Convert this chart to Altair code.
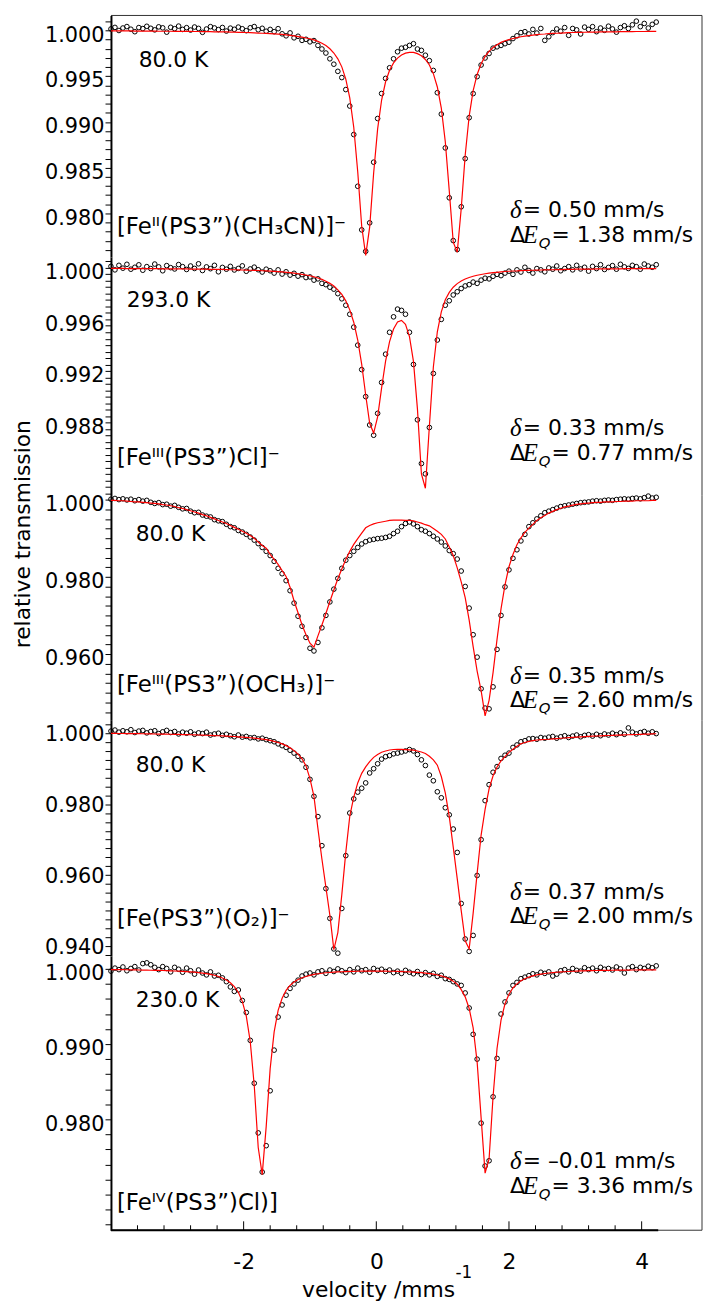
import altair as alt
import pandas as pd

# ---------------- data ----------------
VELOCITY = [
    -4.00, -3.94, -3.88, -3.82, -3.76, -3.70, -3.64, -3.58, -3.52, -3.46,
    -3.40, -3.34, -3.28, -3.22, -3.16, -3.10, -3.04, -2.98, -2.92, -2.86,
    -2.80, -2.74, -2.68, -2.62, -2.56, -2.50, -2.44, -2.38, -2.32, -2.26,
    -2.20, -2.14, -2.08, -2.02, -1.96, -1.90, -1.84, -1.78, -1.72, -1.66,
    -1.60, -1.54, -1.48, -1.42, -1.36, -1.30, -1.24, -1.18, -1.12, -1.06,
    -1.00, -0.94, -0.88, -0.82, -0.76, -0.70, -0.64, -0.58, -0.52, -0.46,
    -0.40, -0.34, -0.28, -0.22, -0.16, -0.10, -0.04, 0.02, 0.08, 0.14,
    0.20, 0.26, 0.32, 0.38, 0.44, 0.50, 0.56, 0.62, 0.68, 0.74,
    0.80, 0.86, 0.92, 0.98, 1.04, 1.10, 1.16, 1.22, 1.28, 1.34,
    1.40, 1.46, 1.52, 1.58, 1.64, 1.70, 1.76, 1.82, 1.88, 1.94,
    2.00, 2.06, 2.12, 2.18, 2.24, 2.30, 2.36, 2.42, 2.48, 2.54,
    2.60, 2.66, 2.72, 2.78, 2.84, 2.90, 2.96, 3.02, 3.08, 3.14,
    3.20, 3.26, 3.32, 3.38, 3.44, 3.50, 3.56, 3.62, 3.68, 3.74,
    3.80, 3.86, 3.92, 3.98, 4.04, 4.10, 4.16, 4.22]

P1_FIT = [
    0.99994, 0.99994, 0.99993, 0.99993, 0.99993, 0.99993, 0.99992, 0.99992, 0.99991, 0.99991,
    0.99991, 0.99991, 0.99990, 0.99990, 0.99990, 0.99990, 0.99989, 0.99989, 0.99988, 0.99988,
    0.99988, 0.99987, 0.99987, 0.99986, 0.99986, 0.99985, 0.99984, 0.99983, 0.99983, 0.99982,
    0.99981, 0.99980, 0.99978, 0.99977, 0.99976, 0.99974, 0.99972, 0.99970, 0.99968, 0.99966,
    0.99964, 0.99961, 0.99958, 0.99955, 0.99950, 0.99945, 0.99939, 0.99932, 0.99925, 0.99916,
    0.99908, 0.99895, 0.99879, 0.99859, 0.99833, 0.99799, 0.99752, 0.99689, 0.99601, 0.99468,
    0.99263, 0.98942, 0.98456, 0.97860, 0.97543, 0.97851, 0.98442, 0.98924, 0.99239, 0.99438,
    0.99563, 0.99644, 0.99697, 0.99731, 0.99751, 0.99760, 0.99759, 0.99745, 0.99722, 0.99682,
    0.99622, 0.99527, 0.99381, 0.99150, 0.98783, 0.98247, 0.97686, 0.97577, 0.98051, 0.98636,
    0.99064, 0.99341, 0.99518, 0.99635, 0.99715, 0.99771, 0.99812, 0.99843, 0.99868, 0.99886,
    0.99899, 0.99911, 0.99921, 0.99930, 0.99937, 0.99943, 0.99948, 0.99953, 0.99957, 0.99960,
    0.99964, 0.99966, 0.99968, 0.99970, 0.99972, 0.99974, 0.99976, 0.99977, 0.99978, 0.99979,
    0.99980, 0.99981, 0.99981, 0.99982, 0.99983, 0.99983, 0.99984, 0.99984, 0.99985, 0.99985,
    0.99986, 0.99986, 0.99987, 0.99987, 0.99987, 0.99988, 0.99988, 0.99988]
P1_DATA = [
    1.00015, 1.00032, 0.99998, 1.00025, 1.00041, 1.00012, 0.99985, 1.00030, 1.00019, 1.00044,
    1.00022, 1.00005, 1.00038, 1.00027, 0.99980, 1.00033, 1.00018, 1.00046, 1.00010, 1.00029,
    1.00003, 1.00036, 1.00021, 0.99978, 1.00014, 1.00040, 1.00026, 1.00008, 1.00031, 0.99992,
    1.00024, 1.00011, 1.00035, 1.00017, 0.99996, 1.00028, 1.00041, 1.00006, 1.00022, 0.99990,
    1.00010, 0.99985, 1.00018, 0.99962, 0.99940, 0.99972, 0.99918, 0.99935, 0.99890, 0.99902,
    0.99874, 0.99888, 0.99835, 0.99796, 0.99752, 0.99689, 0.99630, 0.99552, 0.99484, 0.99353,
    0.99173, 0.98862, 0.98297, 0.97821, 0.97587, 0.97898, 0.98560, 0.99037, 0.99310, 0.99475,
    0.99591, 0.99689, 0.99766, 0.99805, 0.99815, 0.99835, 0.99854, 0.99796, 0.99781, 0.99728,
    0.99669, 0.99562, 0.99319, 0.99085, 0.98716, 0.98171, 0.97704, 0.97606, 0.98073, 0.98599,
    0.99046, 0.99309, 0.99494, 0.99621, 0.99698, 0.99747, 0.99805, 0.99820, 0.99835, 0.99854,
    0.99870, 0.99910, 0.99940, 0.99975, 0.99985, 0.99960, 1.00010, 0.99970, 1.00020, 0.99890,
    0.99930, 0.99975, 1.00015, 0.99990, 1.00030, 0.99945, 1.00020, 1.00005, 0.99960, 1.00035,
    1.00010, 1.00040, 0.99985, 1.00025, 1.00000, 1.00045, 1.00015, 0.99980, 1.00030, 1.00050,
    1.00020, 1.00060, 1.00100, 1.00040, 1.00075, 1.00025, 1.00065, 1.00090]

P2_FIT = [
    0.99996, 0.99996, 0.99996, 0.99996, 0.99995, 0.99995, 0.99995, 0.99995, 0.99995, 0.99994,
    0.99994, 0.99994, 0.99994, 0.99993, 0.99993, 0.99993, 0.99993, 0.99992, 0.99992, 0.99992,
    0.99991, 0.99991, 0.99991, 0.99990, 0.99990, 0.99989, 0.99989, 0.99988, 0.99988, 0.99987,
    0.99986, 0.99986, 0.99985, 0.99984, 0.99983, 0.99982, 0.99981, 0.99980, 0.99978, 0.99977,
    0.99975, 0.99973, 0.99971, 0.99969, 0.99966, 0.99963, 0.99959, 0.99955, 0.99950, 0.99945,
    0.99939, 0.99931, 0.99922, 0.99911, 0.99897, 0.99880, 0.99859, 0.99830, 0.99794, 0.99744,
    0.99674, 0.99578, 0.99440, 0.99250, 0.99013, 0.98793, 0.98717, 0.98843, 0.99068, 0.99276,
    0.99428, 0.99525, 0.99580, 0.99592, 0.99561, 0.99466, 0.99274, 0.98905, 0.98399, 0.98288,
    0.98770, 0.99230, 0.99504, 0.99659, 0.99752, 0.99810, 0.99850, 0.99878, 0.99898, 0.99914,
    0.99926, 0.99935, 0.99943, 0.99949, 0.99955, 0.99959, 0.99963, 0.99966, 0.99969, 0.99972,
    0.99974, 0.99976, 0.99977, 0.99979, 0.99980, 0.99981, 0.99982, 0.99983, 0.99984, 0.99985,
    0.99986, 0.99986, 0.99987, 0.99987, 0.99988, 0.99989, 0.99989, 0.99990, 0.99990, 0.99990,
    0.99991, 0.99991, 0.99992, 0.99992, 0.99992, 0.99993, 0.99993, 0.99993, 0.99993, 0.99994,
    0.99994, 0.99994, 0.99994, 0.99995, 0.99995, 0.99995, 0.99995, 0.99995]
P2_DATA = [
    1.00012, 0.99985, 1.00020, 0.99998, 1.00028, 0.99990, 1.00005, 1.00024, 0.99982, 1.00010,
    0.99995, 1.00030, 1.00008, 0.99978, 1.00018, 1.00002, 0.99992, 1.00026, 1.00010, 0.99988,
    1.00015, 0.99996, 1.00032, 0.99980, 1.00008, 0.99994, 1.00020, 0.99970, 1.00004, 0.99990,
    1.00012, 0.99984, 0.99996, 1.00016, 0.99974, 0.99992, 1.00006, 0.99986, 0.99968, 0.99990,
    0.99978, 0.99960, 0.99985, 0.99952, 0.99970, 0.99944, 0.99958, 0.99936, 0.99948, 0.99925,
    0.99930, 0.99905, 0.99915, 0.99880, 0.99870, 0.99850, 0.99835, 0.99800, 0.99760, 0.99710,
    0.99640, 0.99540, 0.99400, 0.99210, 0.99000, 0.98780, 0.98700, 0.98870, 0.99110, 0.99330,
    0.99500, 0.99620, 0.99680, 0.99670, 0.99640, 0.99500, 0.99250, 0.98820, 0.98480, 0.98400,
    0.98760, 0.99180, 0.99440, 0.99600, 0.99710, 0.99745, 0.99790, 0.99815, 0.99840, 0.99860,
    0.99870, 0.99890, 0.99880, 0.99905, 0.99920, 0.99915, 0.99935, 0.99950, 0.99940, 0.99960,
    0.99975, 0.99950, 0.99985, 0.99968, 1.00005, 0.99980, 0.99960, 0.99995, 0.99985, 0.99970,
    1.00000, 0.99990, 1.00015, 0.99978, 0.99995, 1.00010, 0.99985, 1.00020, 0.99992, 1.00005,
    0.99975, 1.00012, 0.99995, 1.00025, 0.99988, 1.00004, 1.00018, 0.99990, 1.00028, 1.00008,
    0.99996, 1.00020, 1.00010, 0.99990, 1.00030, 1.00015, 1.00005, 1.00025]

P3_FIT = [
    0.9998, 0.9998, 0.9997, 0.9997, 0.9996, 0.9995, 0.9994, 0.9994, 0.9993, 0.9992,
    0.9991, 0.9990, 0.9989, 0.9987, 0.9986, 0.9984, 0.9982, 0.9979, 0.9977, 0.9974,
    0.9971, 0.9968, 0.9965, 0.9961, 0.9958, 0.9954, 0.9950, 0.9946, 0.9942, 0.9938,
    0.9933, 0.9928, 0.9923, 0.9918, 0.9913, 0.9907, 0.9900, 0.9890, 0.9881, 0.9874,
    0.9858, 0.9845, 0.9832, 0.9816, 0.9801, 0.9773, 0.9738, 0.9707, 0.9676, 0.9650,
    0.9628, 0.9618, 0.9647, 0.9675, 0.9705, 0.9736, 0.9766, 0.9795, 0.9820, 0.9845,
    0.9866, 0.9884, 0.9899, 0.9913, 0.9927, 0.9933, 0.9937, 0.9940, 0.9942, 0.9944,
    0.9946, 0.9947, 0.9947, 0.9947, 0.9946, 0.9946, 0.9945, 0.9942, 0.9939, 0.9935,
    0.9932, 0.9925, 0.9918, 0.9910, 0.9898, 0.9877, 0.9855, 0.9823, 0.9787, 0.9746,
    0.9688, 0.9619, 0.9556, 0.9505, 0.9440, 0.9480, 0.9552, 0.9638, 0.9717, 0.9779,
    0.9826, 0.9858, 0.9883, 0.9901, 0.9915, 0.9926, 0.9936, 0.9946, 0.9953, 0.9959,
    0.9965, 0.99695, 0.9974, 0.99775, 0.9981, 0.9983, 0.99855, 0.99875, 0.9989, 0.9990,
    0.9991, 0.9992, 0.9993, 0.9993, 0.9994, 0.9994, 0.9994, 0.9995, 0.9995, 0.9996,
    0.9996, 0.9996, 0.9997, 0.9997, 0.9997, 0.9997, 0.9998, 0.9998]
P3_DATA = [
    1.0001, 1.0003, 1.0000, 1.0002, 0.9999, 1.0001, 0.9997, 1.0000, 0.9996, 0.9998,
    0.9993, 0.9990, 0.9992, 0.9987, 0.9988, 0.9983, 0.9985, 0.9980, 0.9976, 0.9977,
    0.9970, 0.9966, 0.9967, 0.9960, 0.9957, 0.9955, 0.9948, 0.9945, 0.9943, 0.9936,
    0.9930, 0.9927, 0.9920, 0.9916, 0.9910, 0.9903, 0.9895, 0.9886, 0.9876, 0.9866,
    0.9855, 0.9840, 0.9822, 0.9808, 0.9790, 0.9764, 0.9732, 0.9698, 0.9672, 0.9643,
    0.9615, 0.9608, 0.9630, 0.9668, 0.9700, 0.9735, 0.9768, 0.9796, 0.9822, 0.9843,
    0.9855, 0.9866, 0.9876, 0.9885, 0.9891, 0.9895, 0.9897, 0.9899, 0.9900, 0.9902,
    0.9905, 0.9912, 0.9918, 0.9930, 0.9938, 0.9942, 0.9937, 0.9930, 0.9922, 0.9918,
    0.9912, 0.9905, 0.9898, 0.9890, 0.9880, 0.9868, 0.9860, 0.9846, 0.9815, 0.9775,
    0.9719, 0.9650, 0.9592, 0.9510, 0.9460, 0.9458, 0.9515, 0.9612, 0.9700, 0.9774,
    0.9818, 0.9848, 0.9870, 0.9893, 0.9910, 0.9930, 0.9940, 0.9950, 0.9958, 0.9966,
    0.9970, 0.9974, 0.9978, 0.9982, 0.9984, 0.9986, 0.9988, 0.9990, 0.9992, 0.9993,
    0.9994, 0.9996, 0.9997, 0.9996, 0.9998, 0.9999, 0.9998, 1.0000, 1.0001, 1.0002,
    1.0001, 1.0003, 1.0004, 1.0002, 1.0005, 1.0009, 1.0004, 1.0006]

P4_FIT = [
    0.99995, 0.99994, 0.99993, 0.99992, 0.99991, 0.99990, 0.99988, 0.99987, 0.99985, 0.99983,
    0.99981, 0.99979, 0.99977, 0.99975, 0.99973, 0.99971, 0.99968, 0.99966, 0.99963, 0.99960,
    0.99957, 0.99954, 0.99951, 0.99947, 0.99943, 0.99939, 0.99935, 0.99930, 0.99925, 0.99920,
    0.99914, 0.99908, 0.99900, 0.99892, 0.99883, 0.99873, 0.99862, 0.99850, 0.99835, 0.99818,
    0.99797, 0.99772, 0.99740, 0.99700, 0.99650, 0.99590, 0.99510, 0.99410, 0.99280, 0.99080,
    0.98720, 0.98220, 0.97310, 0.96455, 0.95660, 0.94870, 0.93900, 0.94380, 0.95450, 0.96640,
    0.97660, 0.98200, 0.98600, 0.98870, 0.99050, 0.99200, 0.99320, 0.99400, 0.99465, 0.99500,
    0.99528, 0.99542, 0.99546, 0.99545, 0.99540, 0.99530, 0.99522, 0.99500, 0.99470, 0.99430,
    0.99350, 0.99250, 0.99100, 0.98780, 0.98320, 0.97650, 0.96790, 0.95900, 0.95000, 0.94150,
    0.93920, 0.94930, 0.96050, 0.97130, 0.97851, 0.98430, 0.98800, 0.99050, 0.99220, 0.99340,
    0.99460, 0.99550, 0.99630, 0.99705, 0.99740, 0.99770, 0.99790, 0.99810, 0.99818, 0.99824,
    0.99830, 0.99840, 0.99850, 0.99858, 0.99866, 0.99874, 0.99882, 0.99890, 0.99897, 0.99904,
    0.99910, 0.99916, 0.99922, 0.99927, 0.99932, 0.99937, 0.99941, 0.99945, 0.99949, 0.99953,
    0.99957, 0.99961, 0.99965, 0.99969, 0.99973, 0.99977, 0.99981, 0.99985]
P4_DATA = [
    1.0006, 1.0009, 1.0003, 1.0007, 1.0004, 1.0010, 1.0002, 1.0006, 1.0008, 1.0001,
    1.0005, 1.0007, 0.9999, 1.0004, 1.0008, 1.0002, 1.0005, 0.9998, 1.0003, 1.0000,
    1.0004, 0.9997, 1.0001, 0.9999, 1.0003, 0.9995, 0.9998, 1.0000, 0.9994, 0.9997,
    0.9993, 0.9990, 0.9995, 0.9989, 0.9991, 0.9987, 0.9988, 0.9984, 0.9986, 0.9982,
    0.9979, 0.9976, 0.9970, 0.9965, 0.9960, 0.9952, 0.9944, 0.9935, 0.9925, 0.9904,
    0.9870, 0.9822, 0.9765, 0.9683, 0.9562, 0.9478, 0.9392, 0.9380, 0.9506, 0.9655,
    0.9775, 0.9815, 0.9834, 0.9845, 0.9860, 0.9888, 0.9900, 0.9914, 0.9927, 0.9934,
    0.9937, 0.9942, 0.9944, 0.9947, 0.9950, 0.9954, 0.9950, 0.9940, 0.9925, 0.9909,
    0.9882, 0.9866, 0.9835, 0.9818, 0.9790, 0.9770, 0.9730, 0.9664, 0.9520, 0.9420,
    0.9385, 0.9430, 0.9599, 0.9700, 0.9810, 0.9855, 0.9890, 0.9906, 0.9929, 0.9938,
    0.9944, 0.9960, 0.9967, 0.9976, 0.9979, 0.9984, 0.9985, 0.9983, 0.9988, 0.9986,
    0.9989, 0.9991, 0.9986, 0.9990, 0.9993, 0.9988, 0.9992, 0.9995, 0.9990, 0.9994,
    0.9996, 0.9992, 0.9997, 0.9993, 0.9998, 0.9995, 1.0000, 0.9996, 1.0001, 0.9997,
    1.0015, 1.0003, 0.9998, 1.0002, 1.0005, 1.0000, 1.0004, 0.9999]

P5_FIT = [
    0.99990, 0.99990, 0.99989, 0.99989, 0.99988, 0.99987, 0.99986, 0.99985, 0.99984, 0.99983,
    0.99982, 0.99981, 0.99979, 0.99978, 0.99976, 0.99974, 0.99972, 0.99970, 0.99967, 0.99964,
    0.99960, 0.99956, 0.99950, 0.99944, 0.99936, 0.99927, 0.99915, 0.99899, 0.99879, 0.99852,
    0.99816, 0.99764, 0.99689, 0.99568, 0.99371, 0.99032, 0.98449, 0.97626, 0.97265, 0.97903,
    0.98674, 0.99163, 0.99448, 0.99610, 0.99714, 0.99781, 0.99826, 0.99859, 0.99882, 0.99899,
    0.99913, 0.99927, 0.99935, 0.99942, 0.99948, 0.99952, 0.99956, 0.99959, 0.99962, 0.99964,
    0.99966, 0.99967, 0.99968, 0.99969, 0.99970, 0.99970, 0.99970, 0.99970, 0.99970, 0.99969,
    0.99968, 0.99968, 0.99966, 0.99964, 0.99962, 0.99960, 0.99957, 0.99953, 0.99949, 0.99944,
    0.99937, 0.99929, 0.99919, 0.99906, 0.99889, 0.99867, 0.99837, 0.99796, 0.99724, 0.99628,
    0.99474, 0.99215, 0.98763, 0.98023, 0.97285, 0.97474, 0.98301, 0.98942, 0.99318, 0.99536,
    0.99663, 0.99746, 0.99801, 0.99841, 0.99869, 0.99891, 0.99907, 0.99920, 0.99930, 0.99938,
    0.99945, 0.99950, 0.99955, 0.99959, 0.99962, 0.99965, 0.99968, 0.99971, 0.99973, 0.99974,
    0.99976, 0.99977, 0.99978, 0.99979, 0.99980, 0.99981, 0.99982, 0.99983, 0.99983, 0.99984,
    0.99984, 0.99985, 0.99985, 0.99986, 0.99986, 0.99986, 0.99987, 0.99987]
P5_DATA = [
    0.99970, 1.00010, 0.99990, 1.00025, 0.99975, 1.00005, 1.00030, 0.99985, 1.00070, 1.00080,
    1.00055, 1.00020, 0.99990, 1.00030, 1.00005, 0.99960, 1.00020, 0.99995, 0.99955, 1.00010,
    0.99975, 0.99930, 0.99985, 0.99945, 0.99920, 0.99960, 0.99905, 0.99915, 0.99880, 0.99830,
    0.99760, 0.99700, 0.99720, 0.99580, 0.99420, 0.99050, 0.98480, 0.97820, 0.97300, 0.97650,
    0.98380, 0.98920, 0.99360, 0.99520, 0.99650, 0.99740, 0.99800, 0.99850, 0.99905, 0.99930,
    0.99945, 0.99920, 0.99960, 0.99975, 0.99940, 0.99985, 0.99965, 1.00000, 0.99975, 0.99950,
    0.99990, 0.99960, 1.00010, 0.99975, 0.99990, 0.99955, 1.00005, 0.99980, 0.99995, 0.99965,
    0.99985, 0.99950, 0.99970, 0.99940, 0.99980, 0.99955, 0.99935, 0.99965, 0.99925, 0.99950,
    0.99920, 0.99940, 0.99900, 0.99915, 0.99870, 0.99860, 0.99830, 0.99800, 0.99780, 0.99680,
    0.99480, 0.99130, 0.98800, 0.97950, 0.97380, 0.97450, 0.98300, 0.98810, 0.99400, 0.99560,
    0.99680, 0.99780, 0.99820, 0.99870, 0.99890, 0.99910, 0.99935, 0.99920, 0.99955, 0.99940,
    0.99960, 0.99905, 0.99930, 0.99975, 0.99990, 0.99960, 1.00005, 0.99980, 0.99970, 1.00015,
    0.99990, 1.00010, 0.99975, 1.00020, 0.99995, 1.00005, 0.99985, 1.00025, 1.00000, 0.99945,
    1.00010, 1.00030, 0.99990, 1.00020, 1.00005, 1.00035, 1.00015, 1.00040]

# axis ticks
Y_TICKS_1 = [0.975, 0.976, 0.977, 0.978, 0.979, 0.980, 0.981, 0.982, 0.983, 0.984,
             0.985, 0.986, 0.987, 0.988, 0.989, 0.990, 0.991, 0.992, 0.993, 0.994,
             0.995, 0.996, 0.997, 0.998, 0.999, 1.000, 1.001]
Y_MAJOR_1 = [0.980, 0.985, 0.990, 0.995, 1.000]
Y_TICKS_2 = [0.9825, 0.9830, 0.9835, 0.9840, 0.9845, 0.9850, 0.9855, 0.9860, 0.9865, 0.9870,
             0.9875, 0.9880, 0.9885, 0.9890, 0.9895, 0.9900, 0.9905, 0.9910, 0.9915, 0.9920,
             0.9925, 0.9930, 0.9935, 0.9940, 0.9945, 0.9950, 0.9955, 0.9960, 0.9965, 0.9970,
             0.9975, 0.9980, 0.9985, 0.9990, 0.9995, 1.0000, 1.0005]
Y_MAJOR_2 = [0.988, 0.992, 0.996, 1.000]
Y_TICKS_3 = [0.9450, 0.9475, 0.9500, 0.9525, 0.9550, 0.9575, 0.9600, 0.9625, 0.9650, 0.9675,
             0.9700, 0.9725, 0.9750, 0.9775, 0.9800, 0.9825, 0.9850, 0.9875, 0.9900, 0.9925,
             0.9950, 0.9975, 1.0000]
Y_MAJOR_3 = [0.960, 0.980, 1.000]
Y_TICKS_4 = [0.9375, 0.9400, 0.9425, 0.9450, 0.9475, 0.9500, 0.9525, 0.9550, 0.9575, 0.9600,
             0.9625, 0.9650, 0.9675, 0.9700, 0.9725, 0.9750, 0.9775, 0.9800, 0.9825, 0.9850,
             0.9875, 0.9900, 0.9925, 0.9950, 0.9975, 1.0000, 1.0025]
Y_MAJOR_4 = [0.940, 0.960, 0.980, 1.000]
Y_TICKS_5 = [0.966, 0.968, 0.970, 0.972, 0.974, 0.976, 0.978, 0.980, 0.982, 0.984,
             0.986, 0.988, 0.990, 0.992, 0.994, 0.996, 0.998, 1.000]
Y_MAJOR_5 = [0.980, 0.990, 1.000]
X_LABELS = [-2, 0, 2, 4]
X_MINOR = [-3.6, -3.2, -2.8, -2.4, -1.6, -1.2, -0.8, -0.4, 0.4, 0.8, 1.2, 1.6,
           2.4, 2.8, 3.2, 3.6]
X_MAJOR = [-2.0, 0.0, 2.0, 4.0]
AXIS_SPAN = [-4.0, 4.25]

# texts
TEMPS = ["80.0 K", "293.0 K", "80.0 K", "80.0 K", "230.0 K"]
COMPOUNDS = ["[Fe\u1d35\u1d35(PS3\u201d)(CH\u2083CN)]\u207b",
             "[Fe\u1d35\u1d35\u1d35(PS3\u201d)Cl]\u207b",
             "[Fe\u1d35\u1d35\u1d35(PS3\u201d)(OCH\u2083)]\u207b",
             "[Fe(PS3\u201d)(O\u2082)]\u207b",
             "[Fe\u1d35\u2c7d(PS3\u201d)Cl)]"]
DELTAS = ["0.50", "0.33", "0.35", "0.37", "\u20130.01"]
QUADS = ["1.38", "0.77", "2.60", "2.00", "3.36"]

# ---------------- chart ----------------
FONT = "DejaVu Sans"
SERIF = "Liberation Serif"
W = 597
X_DOMAIN = [-4.0, 4.91]
XS = alt.Scale(domain=X_DOMAIN, nice=False, zero=False)
FRAME = "#333333"


def blank():
    return alt.Chart(alt.Data(values=[{"k": 0}]))


def text(s, x, y, size=22, font=FONT, style="normal", align="left", angle=0):
    kw = dict(text=s, font=font, fontSize=size, fontStyle=style, align=align,
              baseline="middle", color="black")
    if angle:
        kw["angle"] = angle
    return blank().mark_text(**kw).encode(x=alt.value(x), y=alt.value(y))


def delta_block(d, q, y1, y2):
    return [
        text("\u03b4", 403, y1, size=25, font=SERIF, style="italic"),
        text("= " + d + " mm/s", 416, y1),
        text("\u0394", 403, y2),
        text("E", 416, y2, size=25, font=SERIF, style="italic"),
        text("Q", 432, y2 + 8, size=15, style="italic"),
        text("= " + q + " mm/s", 445, y2),
    ]


XAXIS = alt.Axis(values=X_LABELS, ticks=False, tickSize=0, domain=False, grid=False,
                 labelExpr="datum.value < 0 ? '-' + abs(datum.value) : '' + datum.value",
                 labelFont=FONT, labelFontSize=22, labelColor="black", labelPadding=22)


def panel(data, fit, h, ydom, yticks, ymajor, loff, idx, ytexts, bottom=False, top=False, extra=()):
    df = pd.DataFrame({"v": VELOCITY, "t": data, "f": fit})
    ys = alt.Scale(domain=ydom, nice=False, zero=False)
    majors = "[" + ",".join("'%.4f'" % m for m in ymajor) + "]"
    yaxis = alt.Axis(values=yticks, grid=False, labelOverlap=False,
                     labelExpr="indexof(%s, format(datum.value, '.4f')) >= 0 ? format(datum.value, '.3f') : ''" % majors,
                     tickSize=6, tickColor="black", tickWidth=1,
                     domainColor="black", domainWidth=2,
                     labelFont=FONT, labelFontSize=21, labelColor="black",
                     labelPadding=1, labelOffset=loff)
    xaxis = XAXIS if bottom else None
    x = alt.X("v:Q", scale=XS, axis=xaxis, title=None)
    pts = alt.Chart(df).mark_point(shape="circle", filled=False, size=22, strokeWidth=1,
                                   color="black", opacity=1).encode(
        x=x, y=alt.Y("t:Q", scale=ys, axis=yaxis, title=None))
    line = alt.Chart(df).mark_line(color="#ff0000", strokeWidth=1.2).encode(
        x=x, y=alt.Y("f:Q", scale=ys, axis=yaxis, title=None))
    layers = [pts, line]
    layers.append(blank().mark_rule(color=FRAME, strokeWidth=1).encode(
        x=alt.value(W), y=alt.value(0), y2=alt.value(h)))
    if top:
        layers.append(blank().mark_rule(color=FRAME, strokeWidth=1).encode(
            x=alt.value(0), x2=alt.value(W), y=alt.value(0)))
    if bottom:
        layers.append(blank().mark_rule(color=FRAME, strokeWidth=1).encode(
            x=alt.value(0), x2=alt.value(W), y=alt.value(h)))
        span = pd.DataFrame({"a": [AXIS_SPAN[0]], "b": [AXIS_SPAN[1]]})
        layers.append(alt.Chart(span).mark_rule(color="black", strokeWidth=2).encode(
            x=alt.X("a:Q", scale=XS, axis=xaxis, title=None), x2="b:Q", y=alt.value(h)))
        layers.append(alt.Chart(pd.DataFrame({"x": X_MINOR})).mark_rule(color="black", strokeWidth=1).encode(
            x=alt.X("x:Q", scale=XS, axis=xaxis, title=None), y=alt.value(h), y2=alt.value(h - 5)))
        layers.append(alt.Chart(pd.DataFrame({"x": X_MAJOR})).mark_rule(color="black", strokeWidth=1).encode(
            x=alt.X("x:Q", scale=XS, axis=xaxis, title=None), y=alt.value(h), y2=alt.value(h - 9)))
    tx, ty, cy, d1, d2 = ytexts
    layers.append(text(TEMPS[idx], tx, ty))
    layers.append(text(COMPOUNDS[idx], 6, cy, size=23))
    layers += delta_block(DELTAS[idx], QUADS[idx], d1, d2)
    layers += list(extra)
    return alt.layer(*layers).properties(width=W, height=h)


p1 = panel(P1_DATA, P1_FIT, 244, [0.975243, 1.001622], Y_TICKS_1, Y_MAJOR_1, 5, 0,
           (28, 45, 214, 197, 222), top=True)
p2 = panel(P2_DATA, P2_FIT, 241, [0.982308, 1.000846], Y_TICKS_2, Y_MAJOR_2, 5, 1,
           (16, 43, 203, 173, 198))
p3 = panel(P3_DATA, P3_FIT, 227, [0.942821, 1.001026], Y_TICKS_3, Y_MAJOR_3, 5, 2,
           (25, 39, 191, 182, 207),
           extra=[text("relative transmission", -89, 39, align="center", angle=270)])
p4 = panel(P4_DATA, P4_FIT, 238, [0.937204, 1.003628], Y_TICKS_4, Y_MAJOR_4, 1, 3,
           (25, 45, 201, 173, 198))
p5 = panel(P5_DATA, P5_FIT, 277, [0.965263, 1.001711], Y_TICKS_5, Y_MAJOR_5, 5, 4,
           (25, 45, 250, 207, 232), bottom=True,
           extra=[text("velocity /mms", 193, 337),
                  text("-1", 348, 320, size=17)])

chart = alt.vconcat(p1, p2, p3, p4, p5, spacing=0, bounds="flush").properties(
    padding={"left": 4, "top": 0, "right": 0, "bottom": 0}
).configure_view(strokeWidth=0)

chart.save("out.html", embed_options={"renderer": "svg", "actions": False})
